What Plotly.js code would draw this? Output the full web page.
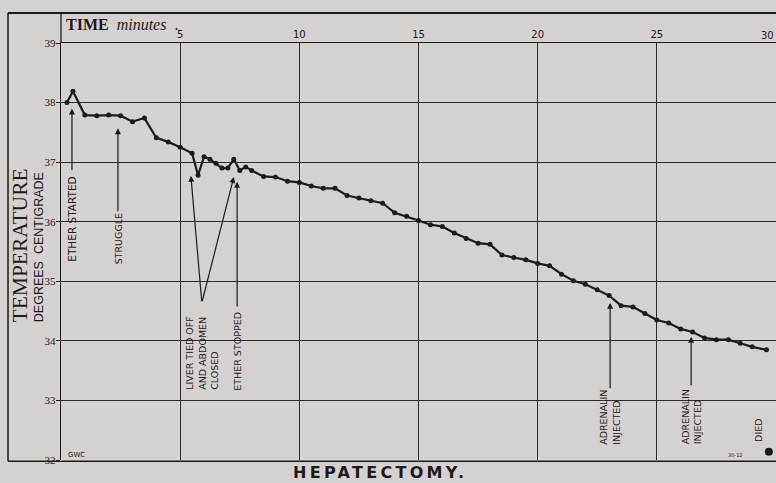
<!DOCTYPE html>
<html>
<head>
<meta charset="utf-8">
<script src="https://cdn.plot.ly/plotly-3.0.1.min.js"></script>
<style>
  html, body { margin:0; padding:0; background:#d5d1d0; }
  #chart { width:776px; height:483px; }
  .gtitle { letter-spacing: 3.3px; }
</style>
</head>
<body>
<div id="chart"></div>
<script>
// Time in minutes and temperature in degrees centigrade
const minutes = [0.25, 0.5, 1.0, 1.5, 2.0, 2.5, 3.0, 3.5, 4.0, 4.5, 5.0, 5.5,
  5.75, 6.0, 6.25, 6.5, 6.75, 7.0, 7.25, 7.5, 7.75, 8.0,
  8.5, 9.0, 9.5, 10.0, 10.5, 11.0, 11.5, 12.0, 12.5, 13.0, 13.5, 14.0, 14.5, 15.0,
  15.5, 16.0, 16.5, 17.0, 17.5, 18.0, 18.5, 19.0, 19.5, 20.0, 20.5, 21.0, 21.5, 22.0,
  22.5, 23.0, 23.5, 24.0, 24.5, 25.0, 25.5, 26.0, 26.5, 27.0, 27.5, 28.0, 28.5, 29.0, 29.6];
const temperature = [38.0, 38.19, 37.79, 37.78, 37.79, 37.78, 37.68, 37.74, 37.41, 37.34, 37.25, 37.15,
  36.78, 37.09, 37.05, 36.98, 36.90, 36.90, 37.05, 36.86, 36.92, 36.86,
  36.76, 36.75, 36.68, 36.66, 36.60, 36.56, 36.56, 36.44, 36.40, 36.35, 36.31, 36.15, 36.09, 36.02,
  35.95, 35.92, 35.81, 35.72, 35.64, 35.62, 35.44, 35.40, 35.36, 35.30, 35.26, 35.12, 35.01, 34.95,
  34.86, 34.76, 34.59, 34.57, 34.46, 34.35, 34.30, 34.20, 34.15, 34.05, 34.02, 34.02, 33.96, 33.90, 33.85];

const xTickVals = [5, 10, 15, 20, 25];
const xTickText = ['5', '10', '15', '20', '25'];
const yTickVals = [32, 33, 34, 35, 36, 37, 38, 39];
const yTickText = ['32', '33', '34', '35', '36', '37', '38', '39'];

// Events: text position
const eventLabels = ['ETHER STARTED', 'STRUGGLE', 'LIVER TIED OFF<br>AND ABDOMEN<br>CLOSED', 'ETHER STOPPED',
  'ADRENALIN<br>INJECTED', 'ADRENALIN<br>INJECTED'];
const eventX = [0.46, 2.39, 5.92, 7.39, 23.04, 26.44];
const eventTextY = [36.05, 35.72, 33.80, 33.82, 32.71, 32.72];
// arrows: tail -> head
const arrowTailX = [0.46, 2.39, 5.91, 5.91, 7.39, 23.04, 26.44];
const arrowTailY = [36.84, 36.15, 34.64, 34.64, 34.55, 33.18, 33.23];
const arrowHeadX = [0.46, 2.39, 5.45, 7.25, 7.39, 23.04, 26.44];
const arrowHeadY = [37.90, 37.57, 36.77, 36.75, 36.67, 34.64, 34.07];

const diedTime = [29.7];
const diedTemp = [32.14];

const ink = '#1c1a1a';

const traces = [
  {
    x: minutes, y: temperature, type: 'scatter', mode: 'lines+markers',
    line: {color: ink, width: 2.2}, marker: {color: ink, size: 5},
    hoverinfo: 'skip', cliponaxis: false
  },
  {
    x: diedTime, y: diedTemp, type: 'scatter', mode: 'markers',
    marker: {color: ink, size: 8}, hoverinfo: 'skip', cliponaxis: false
  }
];

const annotations = [];
eventLabels.forEach((t, i) => {
  annotations.push({
    x: eventX[i], y: eventTextY[i], xref: 'x', yref: 'y', text: t, showarrow: false,
    textangle: -90, align: 'left', xanchor: 'center', yanchor: 'middle',
    font: {family: 'DejaVu Sans', size: i === 0 ? 10.5 : 9.5, color: ink}
  });
});
arrowHeadX.forEach((hx, i) => {
  annotations.push({
    x: hx, y: arrowHeadY[i], ax: arrowTailX[i], ay: arrowTailY[i],
    xref: 'x', yref: 'y', axref: 'x', ayref: 'y', text: '', showarrow: true,
    arrowhead: 2, arrowsize: 1, arrowwidth: 1.2, arrowcolor: ink
  });
});
annotations.push({
  x: 29.29, y: 32.49, xref: 'x', yref: 'y', text: 'DIED', showarrow: false, textangle: -90,
  xanchor: 'center', yanchor: 'middle',
  font: {family: 'DejaVu Sans', size: 9.5, color: ink}
});
annotations.push({
  x: 0.2, y: 32.08, xref: 'x', yref: 'y', text: 'GWC', showarrow: false, xanchor: 'left',
  font: {family: 'DejaVu Sans', size: 7, color: ink}
});
annotations.push({
  x: 28.3, y: 32.08, xref: 'x', yref: 'y', text: '30-12', showarrow: false, xanchor: 'center',
  font: {family: 'DejaVu Sans', size: 5, color: ink}
});
annotations.push({
  x: 0.004, y: 1.044, xref: 'paper', yref: 'paper', text: '<b>TIME</b>  <i>minutes</i>  .',
  showarrow: false, xanchor: 'left', yanchor: 'middle',
  font: {family: 'Liberation Serif', size: 16, color: ink}
});
annotations.push({
  x: 1, y: 1.0, xref: 'paper', yref: 'paper', text: '30', showarrow: false,
  xanchor: 'right', yanchor: 'bottom', font: {family: 'DejaVu Sans', size: 10, color: ink}
});
annotations.push({
  x: -0.057, y: 0.515, xref: 'paper', yref: 'paper', text: 'TEMPERATURE', showarrow: false,
  textangle: -90, xanchor: 'center', yanchor: 'middle',
  font: {family: 'Liberation Serif', size: 21.5, color: ink}
});
annotations.push({
  x: -0.031, y: 0.51, xref: 'paper', yref: 'paper', text: 'DEGREES  CENTIGRADE', showarrow: false,
  textangle: -90, xanchor: 'center', yanchor: 'middle',
  font: {family: 'Liberation Sans', size: 12.5, color: ink}
});

const frameL = -0.0741, frameT = 1.072, frameB = -0.003;
const shapes = [
  {type: 'line', xref: 'paper', yref: 'paper', x0: frameL, x1: frameL, y0: frameB, y1: frameT, line: {color: ink, width: 1.5}},
  {type: 'line', xref: 'paper', yref: 'paper', x0: frameL, x1: 1, y0: frameT, y1: frameT, line: {color: ink, width: 1.8}},
  {type: 'line', xref: 'paper', yref: 'paper', x0: frameL, x1: 1, y0: frameB, y1: frameB, line: {color: ink, width: 1.5}},
  {type: 'line', xref: 'paper', yref: 'paper', x0: 0, x1: 0, y0: 1, y1: frameT, line: {color: ink, width: 1.3}}
];

const layout = {
  width: 776, height: 483,
  margin: {l: 61, r: 0, t: 43, b: 23, pad: 0},
  paper_bgcolor: '#d5d1d0', plot_bgcolor: '#d5d1d0',
  showlegend: false,
  title: {text: '<b>HEPATECTOMY.</b>', x: 0.49, xref: 'container', y: 0.021, yref: 'container',
    xanchor: 'center', yanchor: 'middle', font: {family: 'DejaVu Sans', size: 16, color: ink}},
  xaxis: {
    range: [0, 30], side: 'top', tickvals: xTickVals, ticktext: xTickText,
    showgrid: true, gridcolor: '#2b2828', gridwidth: 1.2, zeroline: false,
    showline: true, linecolor: ink, linewidth: 1.3, ticks: '', ticklabelstandoff: 0,
    tickfont: {family: 'DejaVu Sans', size: 10, color: ink}, fixedrange: true
  },
  yaxis: {
    range: [32, 39], tickvals: yTickVals, ticktext: yTickText,
    showgrid: true, gridcolor: '#2b2828', gridwidth: 1.2, zeroline: false,
    showline: true, linecolor: ink, linewidth: 1.3, ticks: 'outside', ticklen: 4, tickcolor: ink,
    ticklabelstandoff: -2,
    tickfont: {family: 'Liberation Serif', size: 11, color: ink}, fixedrange: true
  },
  annotations: annotations,
  shapes: shapes
};

Plotly.newPlot('chart', traces, layout, {displayModeBar: false, staticPlot: true});
</script>
</body>
</html>
